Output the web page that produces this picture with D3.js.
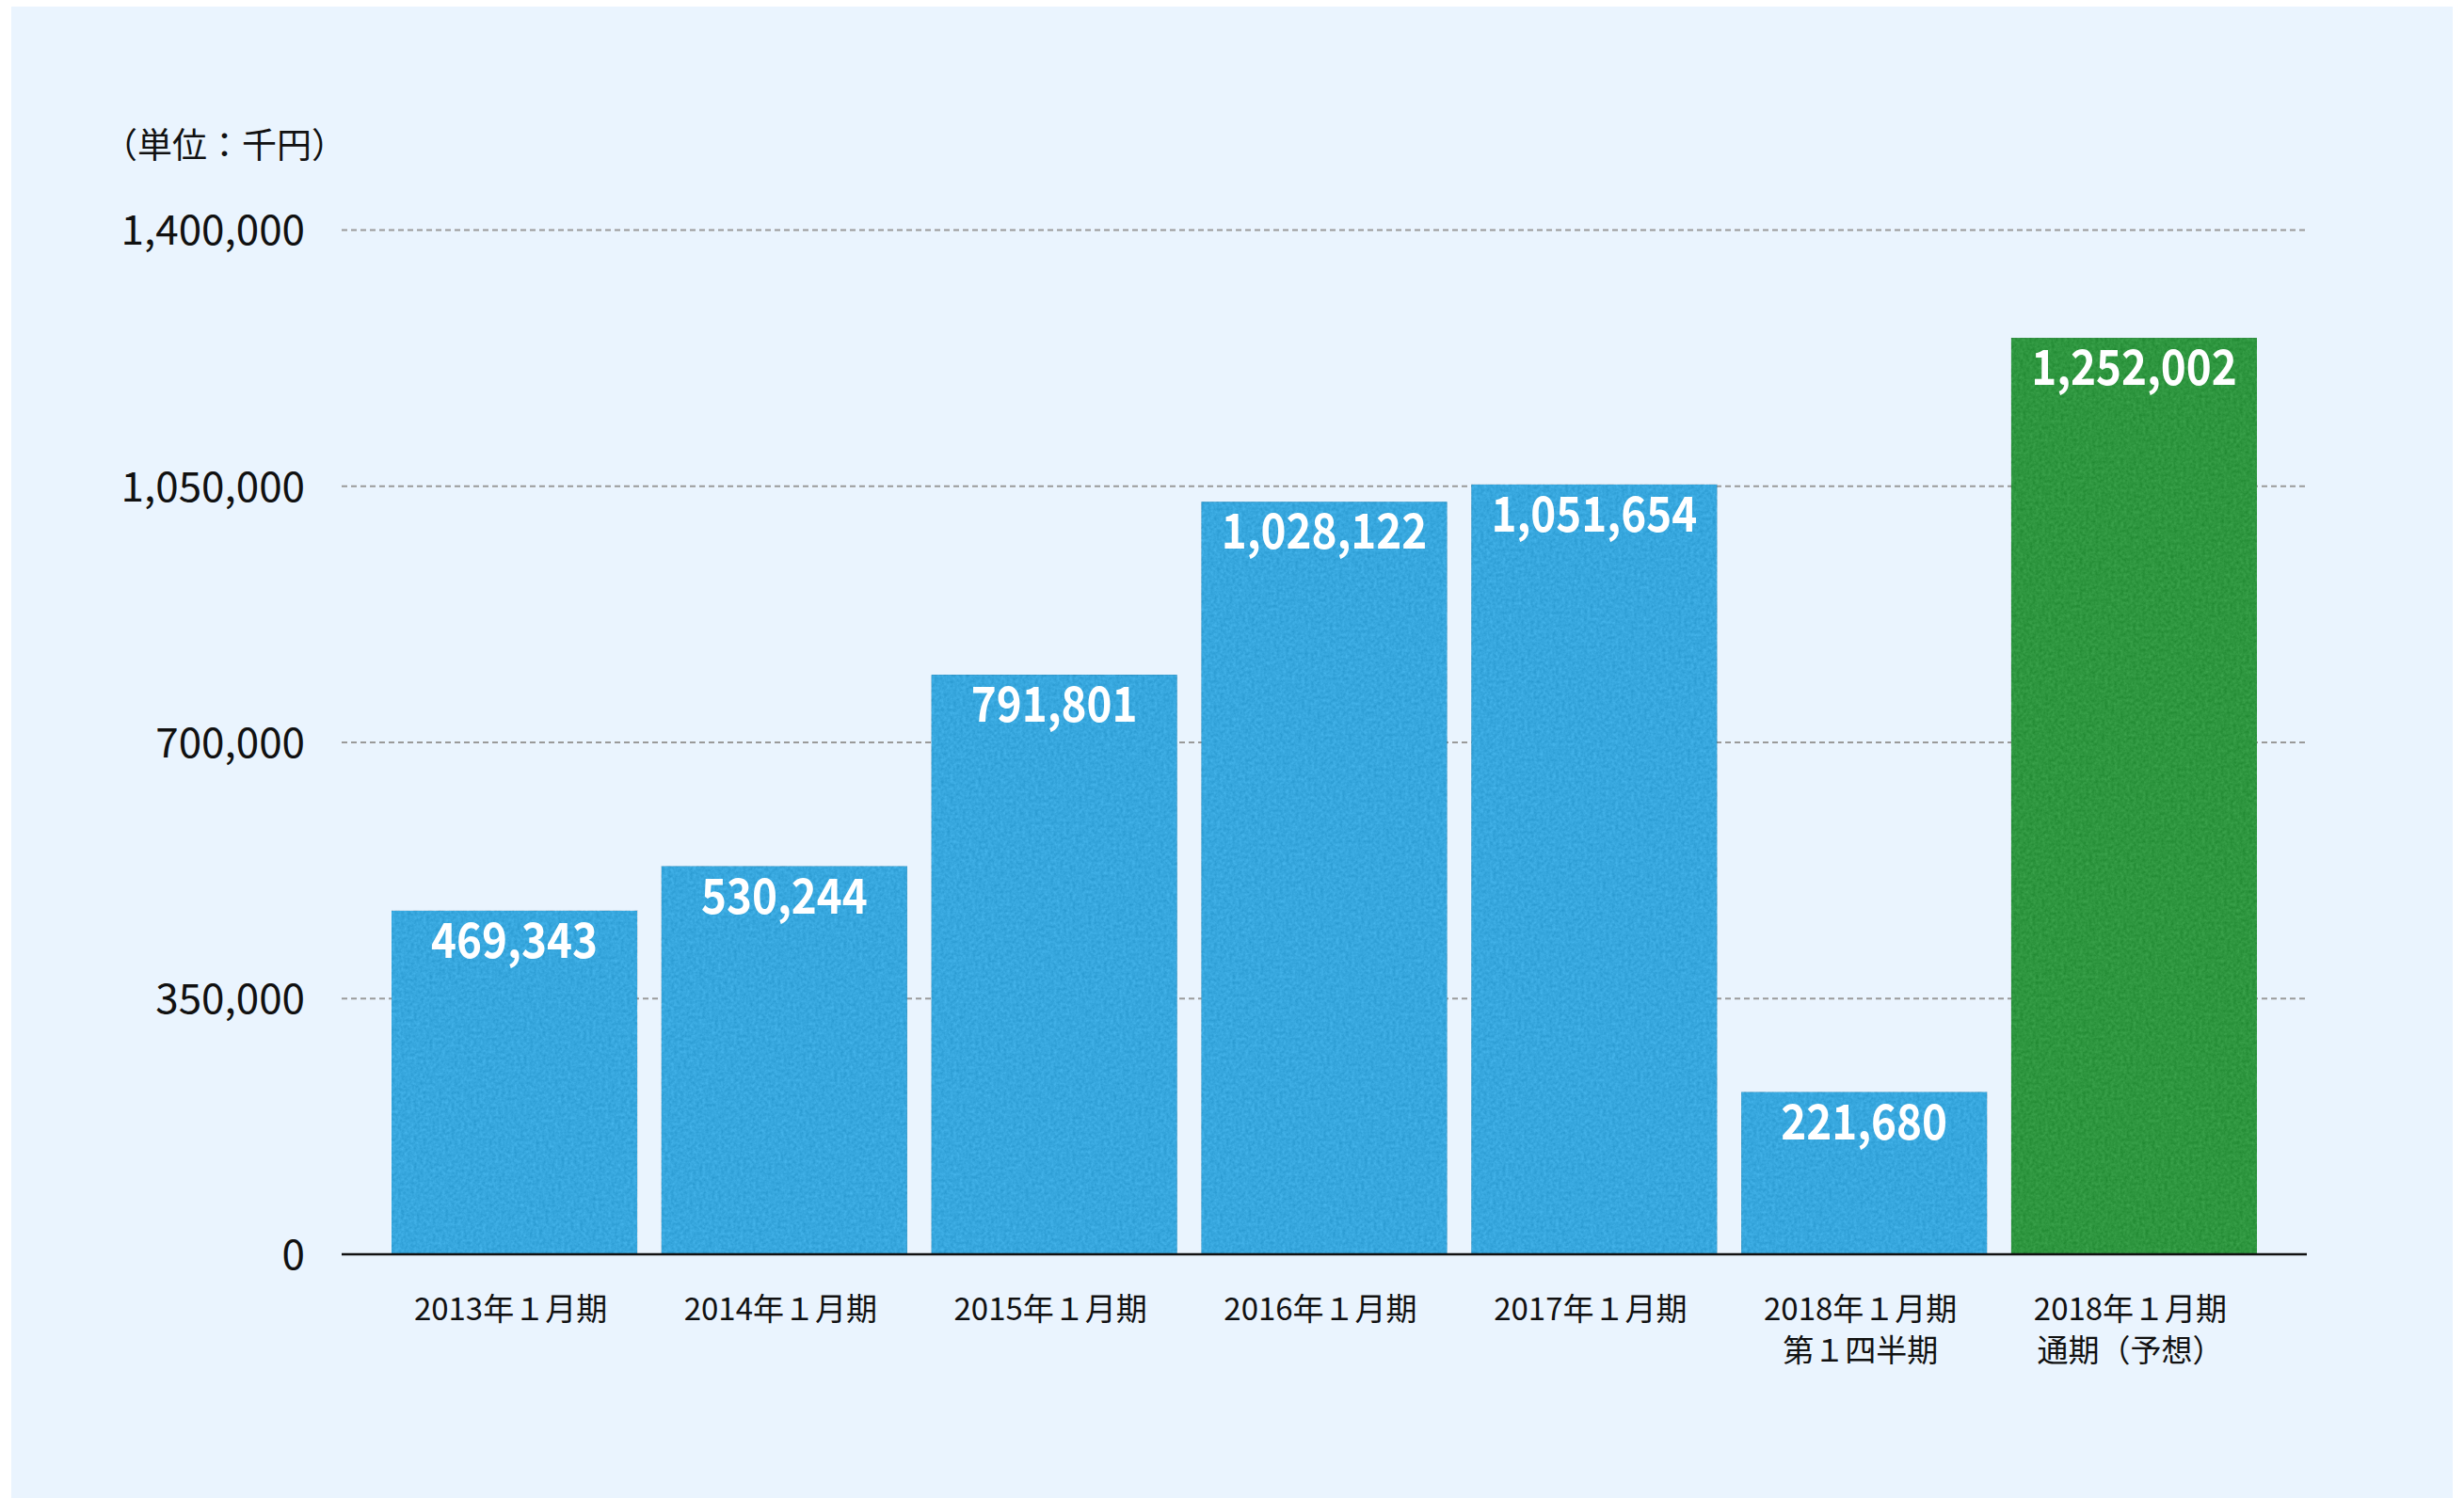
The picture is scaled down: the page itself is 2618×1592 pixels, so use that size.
<!DOCTYPE html>
<html>
<head>
<meta charset="utf-8">
<script src="https://cdn.jsdelivr.net/npm/d3@7"></script>
<style>
  html, body { margin: 0; padding: 0; background: #ffffff; }
  svg { display: block; }
</style>
</head>
<body>
<svg id="chart" width="2618" height="1592"></svg>
<script>
// ---- data ----
const categories = ["2013-01", "2014-01", "2015-01", "2016-01", "2017-01", "2018-01Q1", "2018-01F"];
const labelLine1 = ["2013年１月期", "2014年１月期", "2015年１月期", "2016年１月期", "2017年１月期", "2018年１月期", "2018年１月期"];
const labelLine2 = ["", "", "", "", "", "第１四半期", "通期（予想）"];
const values = [469343, 530244, 791801, 1028122, 1051654, 221680, 1252002];
const isForecast = [false, false, false, false, false, false, true];
const yTicks = [0, 350000, 700000, 1050000, 1400000];
const unitLabel = "（単位：千円）";

// ---- layout ----
const svg = d3.select("#chart");
const jp = "'Noto Sans CJK JP', 'Noto Sans', sans-serif";

svg.append("rect").attr("x", 12).attr("y", 7).attr("width", 2594).attr("height", 1585).attr("fill", "#eaf4fe");

const defs = svg.append("defs");
const f = defs.append("filter").attr("id", "paper").attr("x", 0).attr("y", 0).attr("width", 1).attr("height", 1)
  .attr("color-interpolation-filters", "sRGB");
f.append("feTurbulence").attr("type", "fractalNoise").attr("baseFrequency", 0.3).attr("numOctaves", 3).attr("seed", 4).attr("result", "n");
f.append("feColorMatrix").attr("in", "n").attr("type", "matrix")
  .attr("values", "1 0 0 0 0  1 0 0 0 0  1 0 0 0 0  0 0 0 0 1").attr("result", "g");
f.append("feComposite").attr("in", "SourceGraphic").attr("in2", "g").attr("operator", "arithmetic")
  .attr("k1", 0).attr("k2", 1).attr("k3", 0.14).attr("k4", -0.07);

const xLeft = 363, xRight = 2451;
const y = d3.scaleLinear().domain([0, 1400000]).range([1333, 244]);
const x = d3.scaleBand().domain(categories).range([416, 2398]).paddingInner(0.09);

// gridlines
const grid = svg.append("g").attr("transform", `translate(${xLeft},0)`)
  .call(d3.axisLeft(y).tickValues(yTicks.filter(d => d > 0)).tickSize(-(xRight - xLeft)).tickFormat(""));
grid.select(".domain").remove();
grid.selectAll("line").attr("stroke", "#9a9a9a").attr("stroke-width", 2).attr("stroke-dasharray", "6,4");

// y labels
const yAxis = svg.append("g").attr("transform", `translate(${xLeft},0)`)
  .call(d3.axisLeft(y).tickValues(yTicks).tickSize(0).tickPadding(39).tickFormat(d3.format(",")));
yAxis.select(".domain").remove();
yAxis.selectAll("text").attr("font-family", jp).attr("font-size", 44).attr("fill", "#111").attr("dy", "0.36em");

// unit
svg.append("text").attr("x", 109).attr("y", 168).attr("font-family", jp).attr("font-size", 37).attr("fill", "#111").text(unitLabel);

// bars
const data = categories.map((c, i) => ({ c, v: values[i], f: isForecast[i], l1: labelLine1[i], l2: labelLine2[i] }));
svg.append("g").selectAll("rect").data(data).join("rect")
  .attr("x", d => x(d.c)).attr("width", x.bandwidth())
  .attr("y", d => y(d.v)).attr("height", d => y(0) - y(d.v))
  .attr("fill", d => d.f ? "#2e963f" : "#37a7de")
  .attr("filter", "url(#paper)");

// baseline
svg.append("line").attr("x1", xLeft).attr("x2", xRight).attr("y1", y(0)).attr("y2", y(0))
  .attr("stroke", "#111").attr("stroke-width", 2.5);

// value labels
svg.append("g").selectAll("text").data(data).join("text")
  .attr("transform", d => `translate(${x(d.c) + x.bandwidth() / 2},${y(d.v) + 50}) scale(0.88,1)`)
  .attr("text-anchor", "middle")
  .attr("font-family", jp).attr("font-weight", 700).attr("font-size", 52).attr("fill", "#ffffff")
  .text(d => d3.format(",")(d.v));

// x labels (two separate lines)
const cx = d => x(d.c) + x.bandwidth() / 2 - 4;
svg.append("g").selectAll("text").data(data).join("text")
  .attr("x", cx).attr("y", 1403)
  .attr("text-anchor", "middle")
  .attr("font-family", jp).attr("font-size", 33).attr("fill", "#111")
  .text(d => d.l1);
svg.append("g").selectAll("text").data(data.filter(d => d.l2)).join("text")
  .attr("x", cx).attr("y", 1447)
  .attr("text-anchor", "middle")
  .attr("font-family", jp).attr("font-size", 33).attr("fill", "#111")
  .text(d => d.l2);
</script>
</body>
</html>
